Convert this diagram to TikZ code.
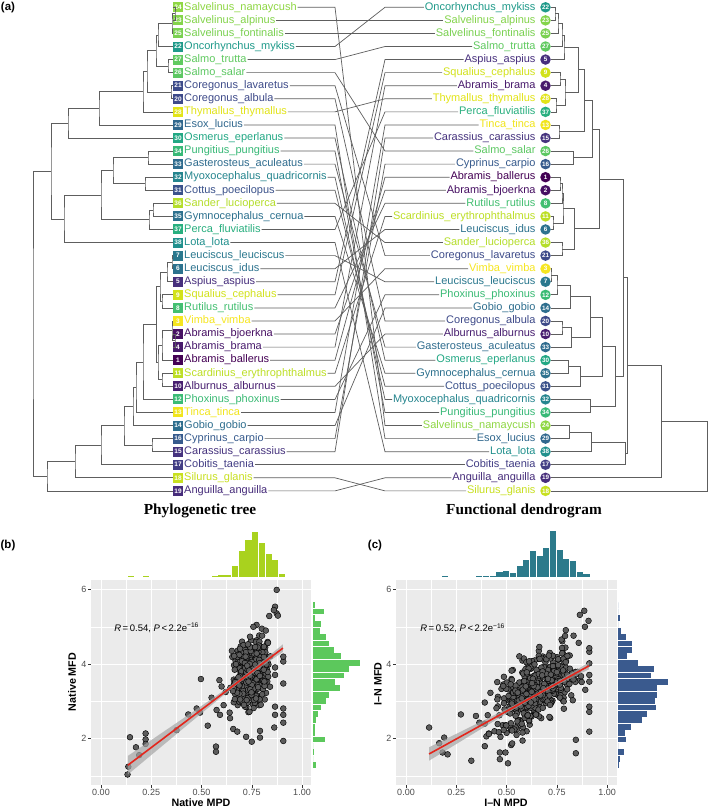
\documentclass[tikz,border=0pt]{standalone}
\usepackage{fontspec}
\setmainfont{Liberation Sans}
\newfontfamily\ttlfont{Liberation Serif}
\usetikzlibrary{positioning,calc}

\definecolor{treegray}{HTML}{5E5E5E}
\definecolor{panelgray}{HTML}{EBEBEB}
\definecolor{ticktext}{HTML}{4D4D4D}
\definecolor{fitred}{HTML}{E3261C}
\definecolor{histbt}{HTML}{A9D21E}
\definecolor{histbr}{HTML}{5CC85C}
\definecolor{histct}{HTML}{2C7A8B}
\definecolor{histcr}{HTML}{3A5A8E}

% species: number, name, colour
\newcommand\spec[3]{\definecolor{s#1}{HTML}{#3}\expandafter\def\csname spn#1\endcsname{#2}}
\spec{1}{Abramis\_ballerus}{440154}
\spec{2}{Abramis\_bjoerkna}{471063}
\spec{3}{Vimba\_vimba}{F6E620}
\spec{4}{Abramis\_brama}{481A6C}
\spec{5}{Aspius\_aspius}{472F7D}
\spec{6}{Leuciscus\_idus}{2C728E}
\spec{7}{Leuciscus\_leuciscus}{2A788E}
\spec{8}{Rutilus\_rutilus}{43BF71}
\spec{9}{Squalius\_cephalus}{D2E21B}
\spec{10}{Alburnus\_alburnus}{481F70}
\spec{11}{Scardinius\_erythrophthalmus}{BDDF26}
\spec{12}{Phoxinus\_phoxinus}{3BBB75}
\spec{13}{Tinca\_tinca}{F1E51D}
\spec{14}{Gobio\_gobio}{2E6E8E}
\spec{15}{Carassius\_carassius}{46337E}
\spec{16}{Cyprinus\_carpio}{375B8D}
\spec{17}{Cobitis\_taenia}{433E85}
\spec{18}{Silurus\_glanis}{C8E020}
\spec{19}{Anguilla\_anguilla}{472D7B}
\spec{20}{Coregonus\_albula}{3E4A89}
\spec{21}{Coregonus\_lavaretus}{3E4C8A}
\spec{22}{Oncorhynchus\_mykiss}{1F9A8A}
\spec{23}{Salvelinus\_alpinus}{84D44B}
\spec{24}{Salvelinus\_namaycush}{8FD744}
\spec{25}{Salvelinus\_fontinalis}{7AD151}
\spec{26}{Salmo\_salar}{5DC863}
\spec{27}{Salmo\_trutta}{60CA60}
\spec{28}{Thymallus\_thymallus}{E2E418}
\spec{29}{Esox\_lucius}{31688E}
\spec{30}{Osmerus\_eperlanus}{22A884}
\spec{31}{Cottus\_poecilopus}{3B528B}
\spec{32}{Myoxocephalus\_quadricornis}{25858E}
\spec{33}{Gasterosteus\_aculeatus}{2F6C8E}
\spec{34}{Pungitius\_pungitius}{38B977}
\spec{35}{Gymnocephalus\_cernua}{2D718E}
\spec{36}{Sander\_lucioperca}{B5DE2B}
\spec{37}{Perca\_fluviatilis}{29AF7F}
\spec{38}{Lota\_lota}{21908D}

% clade: name, x of the join, two children
\newcommand\clade[4]{%
  \coordinate (#1m) at ($(#3)!0.5!(#4)$);
  \coordinate (#1) at (#2,0 |- #1m);
  \draw[branch] (#3) -| (#1) |- (#4);}

\begin{document}
\begin{tikzpicture}[
  x=1pt, y=-1pt,
  branch/.style={draw=treegray, line width=0.7pt},
  link/.style={draw=treegray, line width=0.7pt},
  lab/.style={font=\fontsize{11}{13}\selectfont, inner sep=0.8pt, text height=8pt, text depth=2.5pt},
  numbox/.style={minimum size=10pt, inner sep=0pt, text=white, font=\bfseries\fontsize{6.5}{7}\selectfont},
  numdot/.style={circle, minimum size=10.5pt, inner sep=0pt, text=white, font=\bfseries\fontsize{6.3}{7}\selectfont},
  ttl/.style={font=\ttlfont\bfseries\fontsize{15.3}{18}\selectfont},
  plab/.style={font=\bfseries\fontsize{11.5}{13}\selectfont, inner sep=0pt},
  panelbg/.style={fill=panelgray},
  majorgrid/.style={draw=white, line width=0.8pt},
  minorgrid/.style={draw=white, line width=0.4pt},
  tickmk/.style={draw=black!80, line width=0.5pt},
  ticklab/.style={text=ticktext, inner sep=0pt, font=\fontsize{9}{10}\selectfont},
  axtitle/.style={font=\bfseries\fontsize{10.7}{12}\selectfont, inner sep=0pt},
  note/.style={font=\fontsize{9.5}{10}\selectfont, inner sep=0pt},
  scpt/.style={fill=black!64, draw=black, line width=0.45pt},
  band/.style={fill=gray!70, fill opacity=0.7},
  fitline/.style={draw=fitred, line width=1.6pt}
]
\useasboundingbox (0,0) rectangle (709,810);
\fill[white] (0,0) rectangle (709,810);

%% (a) tanglegram
\node[plab] (pa) at (8,8) {(a)};
\foreach \n [count=\i] in {24,23,25,22,27,26,21,20,28,29,30,34,33,32,31,36,35,37,38,
    7,6,5,9,8,3,2,4,1,11,10,12,13,14,16,15,17,18,19}{
  \pgfmathsetmacro\yy{7.3+(\i-1)*13.07}
  \node[numbox, fill=s\n] (bx\n) at (178,\yy) {\n};
  \node[lab, text=s\n, right=0pt of bx\n] (lt\n) {\csname spn\n\endcsname};
}
\foreach \n [count=\i] in {22,23,25,27,5,9,4,28,37,13,15,26,16,1,2,8,11,6,36,21,
    3,7,12,14,20,10,33,30,35,31,32,34,24,29,38,17,19,18}{
  \pgfmathsetmacro\yy{7.3+(\i-1)*13.07}
  \node[numdot, fill=s\n] (cc\n) at (545.5,\yy) {\n};
  \node[lab, text=s\n, anchor=east] (rt\n) at (536.5,\yy) {\csname spn\n\endcsname};
}

% phylogenetic tree
\clade{a1}{175}{bx24.west}{bx23.west}
\clade{a2}{172}{a1}{bx25.west}
\clade{a3}{158}{a2}{bx22.west}
\clade{a4}{168}{bx27.west}{bx26.west}
\clade{a5}{156}{a3}{a4}
\clade{a6}{171}{bx21.west}{bx20.west}
\clade{a7}{147}{a5}{a6}
\clade{a8}{143}{a7}{bx28.west}
\clade{a9}{99}{a8}{bx29.west}
\clade{a10}{68}{a9}{bx30.west}
\clade{b1}{148}{bx34.west}{bx33.west}
\clade{b2}{145}{bx32.west}{bx31.west}
\clade{b3}{113}{b1}{b2}
\clade{b4}{153}{bx36.west}{bx35.west}
\clade{b5}{149}{b4}{bx37.west}
\clade{b6}{101}{b3}{b5}
\clade{b7}{64}{b6}{bx38.west}
\clade{b8}{51}{a10}{b7}
\clade{c1}{172}{bx7.west}{bx6.west}
\clade{c2}{167}{c1}{bx5.west}
\clade{c3}{162}{bx9.west}{bx8.west}
\clade{c4}{160}{c2}{c3}
\clade{c5}{175}{bx2.west}{bx4.west}
\clade{c6}{172}{bx3.west}{c5}
\clade{c7}{162}{c6}{bx1.west}
\clade{c8}{162}{bx11.west}{bx10.west}
\clade{c9}{158}{c7}{c8}
\clade{c10}{156.5}{c4}{c9}
\clade{c11}{143}{c10}{bx12.west}
\clade{c12}{136}{c11}{bx13.west}
\clade{c13}{133}{c12}{bx14.west}
\clade{c14}{152}{bx16.west}{bx15.west}
\clade{c15}{124}{c13}{c14}
\clade{c16}{101}{c15}{bx17.west}
\clade{c17}{75}{c16}{bx18.west}
\clade{c18}{47}{c17}{bx19.west}
\clade{proot}{33}{b8}{c18}

% functional dendrogram
\clade{r1}{555}{cc22.east}{cc23.east}
\clade{r2}{558}{r1}{cc25.east}
\clade{r3}{562}{r2}{cc27.east}
\clade{r4}{564}{r3}{cc5.east}
\clade{r5}{560}{cc9.east}{cc4.east}
\clade{r6}{556}{cc28.east}{cc37.east}
\clade{r7}{565}{r5}{r6}
\clade{r8}{578}{r4}{r7}
\clade{r9}{559}{cc13.east}{cc15.east}
\clade{r10}{584}{r8}{r9}
\clade{r11}{573}{cc26.east}{cc16.east}
\clade{r12}{592}{r10}{r11}
\clade{r13}{560}{cc1.east}{cc2.east}
\clade{r14}{562}{r13}{cc8.east}
\clade{r15}{553}{cc11.east}{cc6.east}
\clade{r16}{563}{r14}{r15}
\clade{r17}{562}{cc36.east}{cc21.east}
\clade{r18}{574}{r16}{r17}
\clade{r19}{599}{r12}{r18}
\clade{r20}{551}{cc3.east}{cc7.east}
\clade{r21}{557}{r20}{cc12.east}
\clade{r22}{570}{r21}{cc14.east}
\clade{r23}{562}{cc20.east}{cc10.east}
\clade{r24}{571}{r23}{cc33.east}
\clade{r25}{590}{r22}{r24}
\clade{r26}{568}{cc30.east}{cc35.east}
\clade{r27}{580}{r26}{cc31.east}
\clade{r28}{602}{r25}{r27}
\clade{r29}{590}{cc32.east}{cc34.east}
\clade{r30}{615}{r28}{r29}
\clade{r31}{623}{r19}{r30}
\clade{r32}{569}{cc24.east}{cc29.east}
\clade{r33}{591}{r32}{cc38.east}
\clade{r34}{625}{r33}{cc17.east}
\clade{r35}{627}{r31}{r34}
\clade{r36}{661}{r35}{cc19.east}
\clade{froot}{707}{r36}{cc18.east}

% links between the two trees
\coordinate (kl) at (335,0);
\coordinate (kr) at (385,0);
\foreach \n in {1,...,38}
  \draw[link] (lt\n.east) -- (lt\n.east -| kl) -- (rt\n.west -| kr) -- (rt\n.west);

\node[ttl] (tphy) at (200,511) {Phylogenetic tree};
\node[ttl] (tfun) at (524,511) {Functional dendrogram};

%% (b) native
\node[plab] (pb) at (8,546) {(b)};
\node[plab] (pc) at (375,546) {(c)};

% marginal histograms of (b)
\foreach \h [count=\k from 0] in {0.7,1.7,2.3,11,26,37,45,34,23,17,3.3}{
  \pgfmathsetmacro\bxl{101+201*(0.551+0.0335*\k)}
  \fill[histbt] (\bxl,577) rectangle ++(6.1,-\h);
}
\fill[histbt] (128.3,577) rectangle ++(6.1,-1.2);
\fill[histbt] (143.3,577) rectangle ++(6.1,-0.6);
\foreach \w [count=\k from 0] in {1.7,10.7,1.7,8.3,7.3,12.7,16,21,28.3,46.7,35.7,31,22.3,
    26.7,15.7,12.7,7.7,5,3.3,1.7,1.7,11.7,0,1.3,0,2.7}{
  \pgfmathsetmacro\byc{813.3-37.3*(5.58-0.1715*\k)}
  \fill[histbr] (313,\byc-2.9) rectangle ++(\w,5.8);
}

\begin{scope}[shift={(101,813.3)}, x=201pt, y=37.3pt]
  \fill[panelbg] (-0.0498,0.759) rectangle (1.045,6.255);
  \foreach \g in {0.125,0.375,0.625,0.875} \draw[minorgrid] (\g,0.759) -- (\g,6.255);
  \foreach \g in {1,3,5} \draw[minorgrid] (-0.0498,\g) -- (1.045,\g);
  \foreach \g in {0,0.25,0.5,0.75,1} \draw[majorgrid] (\g,0.759) -- (\g,6.255);
  \foreach \g in {2,4,6} \draw[majorgrid] (-0.0498,\g) -- (1.045,\g);
  \foreach \g/\t [count=\i] in {0/0.00,0.25/0.25,0.5/0.50,0.75/0.75,1/1.00}{
    \draw[tickmk] (\g,0.759) -- ++(0,-2.75pt);
    \node[ticklab, anchor=north] (bxt\i) at ([yshift=-4pt]\g,0.759) {\t};
  }
  \foreach \g [count=\i] in {2,4,6}{
    \draw[tickmk] (-0.0498,\g) -- ++(-2.75pt,0);
    \node[ticklab, anchor=east] (byt\i) at ([xshift=-4.5pt]-0.0498,\g) {\g};
  }
  % points
  \foreach \px/\py in {0.132/1.04,0.136/1.25,0.144/2.04,0.174/1.77,0.19/1.56,0.222/2.14,
      0.222/1.98,0.222/1.86,0.376/2.23,0.434/2.65,0.476/2.81,0.493/2.70,0.497/3.60,
      0.531/2.35,0.572/1.79,0.572/1.65,0.589/3.57,0.575/2.77,0.592/2.64,0.642/2.55,
      0.658/2.26,0.678/2.19,0.722/2.05,0.75/1.92,0.791/2.21,0.791/2.03,0.862/2.30,
      0.907/1.94,0.907/2.43,0.907/2.64,0.907/2.81,0.907/3.48,0.907/4.07,0.907/4.20,
      0.866/3.91,0.866/3.71,0.866/2.86,0.866/2.64,0.874/5.99,0.866/5.54,0.874/5.36,
      0.837/5.29,0.774/5.05,0.758/5.00,0.86/5.45,0.88/5.30,0.80/4.95,0.82/4.90,
      0.60/3.40,0.62/3.25,0.55/3.10,0.61/2.90,0.64/2.70,0.68/2.90}
    \filldraw[scpt] (\px,\py) circle[radius=2.9pt];
  \pgfmathsetseed{11}
  \foreach \k in {1,...,380}{
    \pgfmathsetmacro\px{0.745+0.052*(rand+rand)}
    \pgfmathsetmacro\py{3.75+0.40*(rand+rand+rand)+2*(\px-0.745)}
    \filldraw[scpt] (\px,\py) circle[radius=2.9pt];
  }
  \fill[band] plot[domain=0.134:0.905, samples=30] (\x,{0.745+4.07*\x+sqrt(0.0025+0.1875*(\x-0.7)^2)})
    -- plot[domain=0.905:0.134, samples=30] (\x,{0.745+4.07*\x-sqrt(0.0025+0.1875*(\x-0.7)^2)}) -- cycle;
  \draw[fitline] (0.134,{0.745+4.07*0.134}) -- (0.905,{0.745+4.07*0.905});
  \node[note, anchor=west] (rb) at (0.065,4.98) {\textit{R}\,=\,0.54, \textit{P}\,<\,2.2e\textsuperscript{−16}};
\end{scope}
\node[axtitle] (bxl) at (201,803) {Native MPD};
\node[axtitle, rotate=90] (byl) at (72,682) {Native MFD};

%% (c) introduced-native
\foreach \h [count=\k from 0] in {0.7,1,1,5,6,4,11,17,26,21,29,46,27,18,16,5,3.3}{
  \pgfmathsetmacro\bxl{406+201*(0.35+0.0333*\k)}
  \fill[histct] (\bxl,577) rectangle ++(6.1,-\h);
}
\fill[histct] (441.7,577) rectangle ++(6.1,-1.2);
\foreach \w [count=\k from 0] in {0,0,1.7,0,2.7,7.3,14,13.3,8.3,20,35.7,32.7,49.3,38.7,39,
    36.7,37.7,28.3,24,12.3,6.7,7.3,0,5.3,1.7,1}{
  \pgfmathsetmacro\byc{813.3-37.3*(5.58-0.1715*\k)}
  \fill[histcr] (618.3,\byc-2.9) rectangle ++(\w,5.8);
}

\begin{scope}[shift={(406,813.3)}, x=201pt, y=37.3pt]
  \fill[panelbg] (-0.0498,0.759) rectangle (1.05,6.255);
  \foreach \g in {0.125,0.375,0.625,0.875} \draw[minorgrid] (\g,0.759) -- (\g,6.255);
  \foreach \g in {1,3,5} \draw[minorgrid] (-0.0498,\g) -- (1.05,\g);
  \foreach \g in {0,0.25,0.5,0.75,1} \draw[majorgrid] (\g,0.759) -- (\g,6.255);
  \foreach \g in {2,4,6} \draw[majorgrid] (-0.0498,\g) -- (1.05,\g);
  \foreach \g/\t [count=\i] in {0/0.00,0.25/0.25,0.5/0.50,0.75/0.75,1/1.00}{
    \draw[tickmk] (\g,0.759) -- ++(0,-2.75pt);
    \node[ticklab, anchor=north] (cxt\i) at ([yshift=-4pt]\g,0.759) {\t};
  }
  \foreach \g [count=\i] in {2,4,6}{
    \draw[tickmk] (-0.0498,\g) -- ++(-2.75pt,0);
    \node[ticklab, anchor=east] (cyt\i) at ([xshift=-4.5pt]-0.0498,\g) {\g};
  }
  % points
  \foreach \px/\py in {0.115/2.30,0.165/1.88,0.182/1.63,0.19/2.03,0.207/1.58,0.273/2.65,
      0.325/1.41,0.348/2.61,0.365/2.43,0.392/2.97,0.42/3.23,0.392/1.80,0.412/2.14,
      0.467/1.63,0.467/1.45,0.495/1.63,0.507/1.34,0.523/1.83,0.845/1.61,0.845/1.97,
      0.912/2.19,0.912/2.72,0.912/2.86,0.887/5.43,0.865/5.32,0.908/5.16,0.89/5.00,
      0.795/4.91,0.912/4.33,0.912/4.02,0.912/3.71,0.912/3.53,0.487/3.66,0.44/2.2,
      0.47/2.05,0.55/2.1,0.6/2.2,0.58/1.95}
    \filldraw[scpt] (\px,\py) circle[radius=2.9pt];
  \pgfmathsetseed{23}
  \foreach \k in {1,...,440}{
    \pgfmathsetmacro\px{max(min(0.65+0.1*(rand+rand+rand),0.912),0.36)}
    \pgfmathsetmacro\py{1.5+2.8*\px+0.42*(rand+rand+rand)}
    \filldraw[scpt] (\px,\py) circle[radius=2.9pt];
  }
  \fill[band] plot[domain=0.115:0.91, samples=30] (\x,{1.25+2.97*\x+sqrt(0.0016+0.1076*(\x-0.65)^2)})
    -- plot[domain=0.91:0.115, samples=30] (\x,{1.25+2.97*\x-sqrt(0.0016+0.1076*(\x-0.65)^2)}) -- cycle;
  \draw[fitline] (0.115,{1.25+2.97*0.115}) -- (0.91,{1.25+2.97*0.91});
  \node[note, anchor=west] (rc) at (0.07,4.96) {\textit{R}\,=\,0.52, \textit{P}\,<\,2.2e\textsuperscript{−16}};
\end{scope}
\node[axtitle] (cxl) at (506,803) {I–N MPD};
\node[axtitle, rotate=90] (cyl) at (378,684) {I–N MFD};
\end{tikzpicture}
\end{document}
